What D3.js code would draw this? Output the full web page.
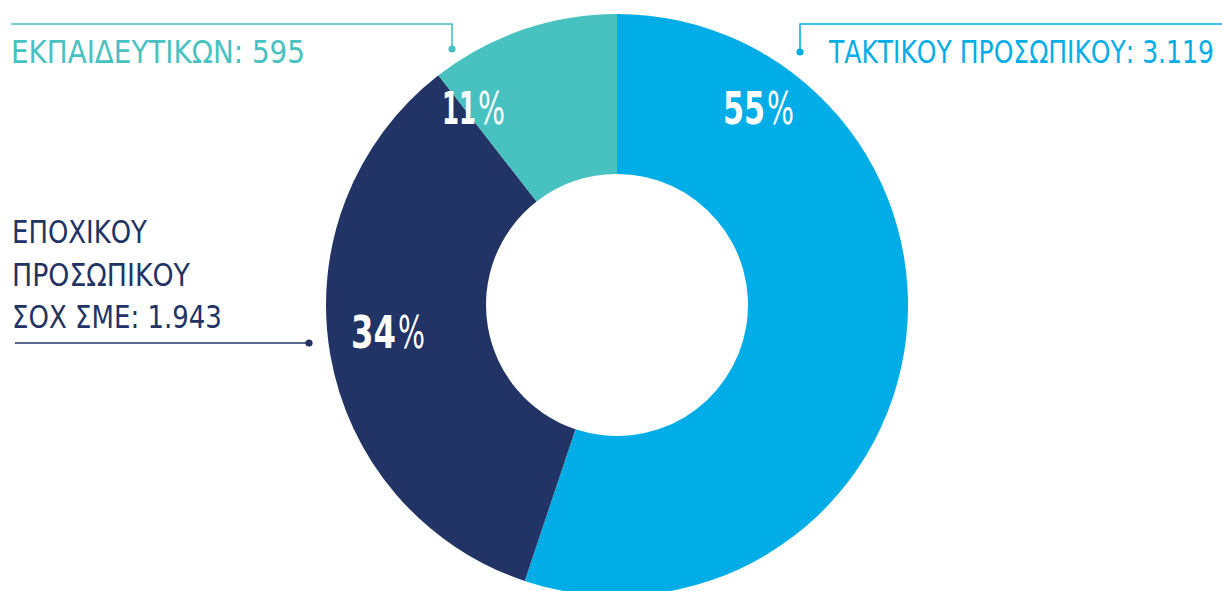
<!DOCTYPE html>
<html><head><meta charset="utf-8">
<script src="https://cdn.jsdelivr.net/npm/d3@7"></script>
<style>
html,body{margin:0;padding:0;background:#fff;}
svg{display:block;}
.lab{font-family:"DejaVu Sans Condensed","DejaVu Sans";font-stretch:condensed;}
</style></head>
<body>
<svg id="c" width="1222" height="591"></svg>
<script>
const categories = ["ΤΑΚΤΙΚΟΥ ΠΡΟΣΩΠΙΚΟΥ", "ΕΠΟΧΙΚΟΥ ΠΡΟΣΩΠΙΚΟΥ ΣΟΧ ΣΜΕ", "ΕΚΠΑΙΔΕΥΤΙΚΩΝ"];
const values = [3119, 1943, 595];
const valueLabels = ["3.119", "1.943", "595"];
const percentLabels = ["55", "34", "11"];
const colors = ["#00ADE6", "#223365", "#48C2C1"];

const svg = d3.select("#c");
const cx = 617, cy = 305, R = 291, r = 131;
const g = svg.append("g").attr("transform", `translate(${cx},${cy})`);

const pie = d3.pie().sort(null).value(d => d);
const arcs = pie(values);
const arc = d3.arc().innerRadius(r).outerRadius(R);

g.selectAll("path").data(arcs).enter().append("path")
  .attr("d", arc)
  .attr("fill", (d, i) => colors[i]);

// helper: draw text squeezed horizontally to a target width via transform
function fitText(parent, str, x, y, anchor, width, attrs) {
  const grp = parent.append("g");
  const t = grp.append("text").attr("class", "lab").attr("x", 0).attr("y", 0).text(str);
  Object.entries(attrs).forEach(([k, v]) => t.attr(k, v));
  const w = t.node().getComputedTextLength();
  const s = width / w;
  const dx = anchor === "end" ? -width : anchor === "middle" ? -width / 2 : 0;
  grp.attr("transform", `translate(${x + dx},${y}) scale(${s},1)`);
  return t;
}

// percent labels: anchor point (between number and %) at a chosen angle/radius in each slice
const labelAngleDeg = [39.5, 258.9, 322.3];
const labelRadius = [234.4, 224.2, 228.8];
const numWidth = [42, 45, 34];
arcs.forEach((d, i) => {
  const a = labelAngleDeg[i] * Math.PI / 180;
  const x = Math.sin(a) * labelRadius[i];
  const y = -Math.cos(a) * labelRadius[i];
  fitText(g, percentLabels[i], x - 1, y, "end", numWidth[i],
    {"font-size": 44, "font-weight": "bold", "fill": "#fff"});
  fitText(g, "%", x + 1, y, "start", 27,
    {"font-size": 44, "font-weight": 200, "font-family": "DejaVu Sans ExtraLight, DejaVu Sans", "fill": "#fff"});
});

// leader lines and category labels
const lw = 1.6;
const fs = 32;
// ΤΑΚΤΙΚΟΥ (blue)
svg.append("path").attr("d", "M1222,24H800V52").attr("fill", "none").attr("stroke", colors[0]).attr("stroke-width", lw);
svg.append("circle").attr("cx", 800).attr("cy", 52).attr("r", 3.6).attr("fill", colors[0]);
fitText(svg, categories[0] + ": " + valueLabels[0], 829, 63, "start", 385, {"font-size": fs, "fill": colors[0]});

// ΕΚΠΑΙΔΕΥΤΙΚΩΝ (teal)
svg.append("path").attr("d", "M11,24H452V49").attr("fill", "none").attr("stroke", colors[2]).attr("stroke-width", lw);
svg.append("circle").attr("cx", 452).attr("cy", 49).attr("r", 3.6).attr("fill", colors[2]);
fitText(svg, categories[2] + ": " + valueLabels[2], 11, 63, "start", 294, {"font-size": fs, "fill": colors[2]});

// ΕΠΟΧΙΚΟΥ (navy), three lines
const navyLines = ["ΕΠΟΧΙΚΟΥ", "ΠΡΟΣΩΠΙΚΟΥ", "ΣΟΧ ΣΜΕ: " + valueLabels[1]];
const navyLen = [135, 178, 210];
navyLines.forEach((s, i) => {
  fitText(svg, s, 12, 243 + i * 42.5, "start", navyLen[i], {"font-size": fs, "fill": colors[1]});
});
svg.append("path").attr("d", "M15,343H309").attr("fill", "none").attr("stroke", colors[1]).attr("stroke-width", lw);
svg.append("circle").attr("cx", 309).attr("cy", 343).attr("r", 3.6).attr("fill", colors[1]);
</script>
</body></html>
